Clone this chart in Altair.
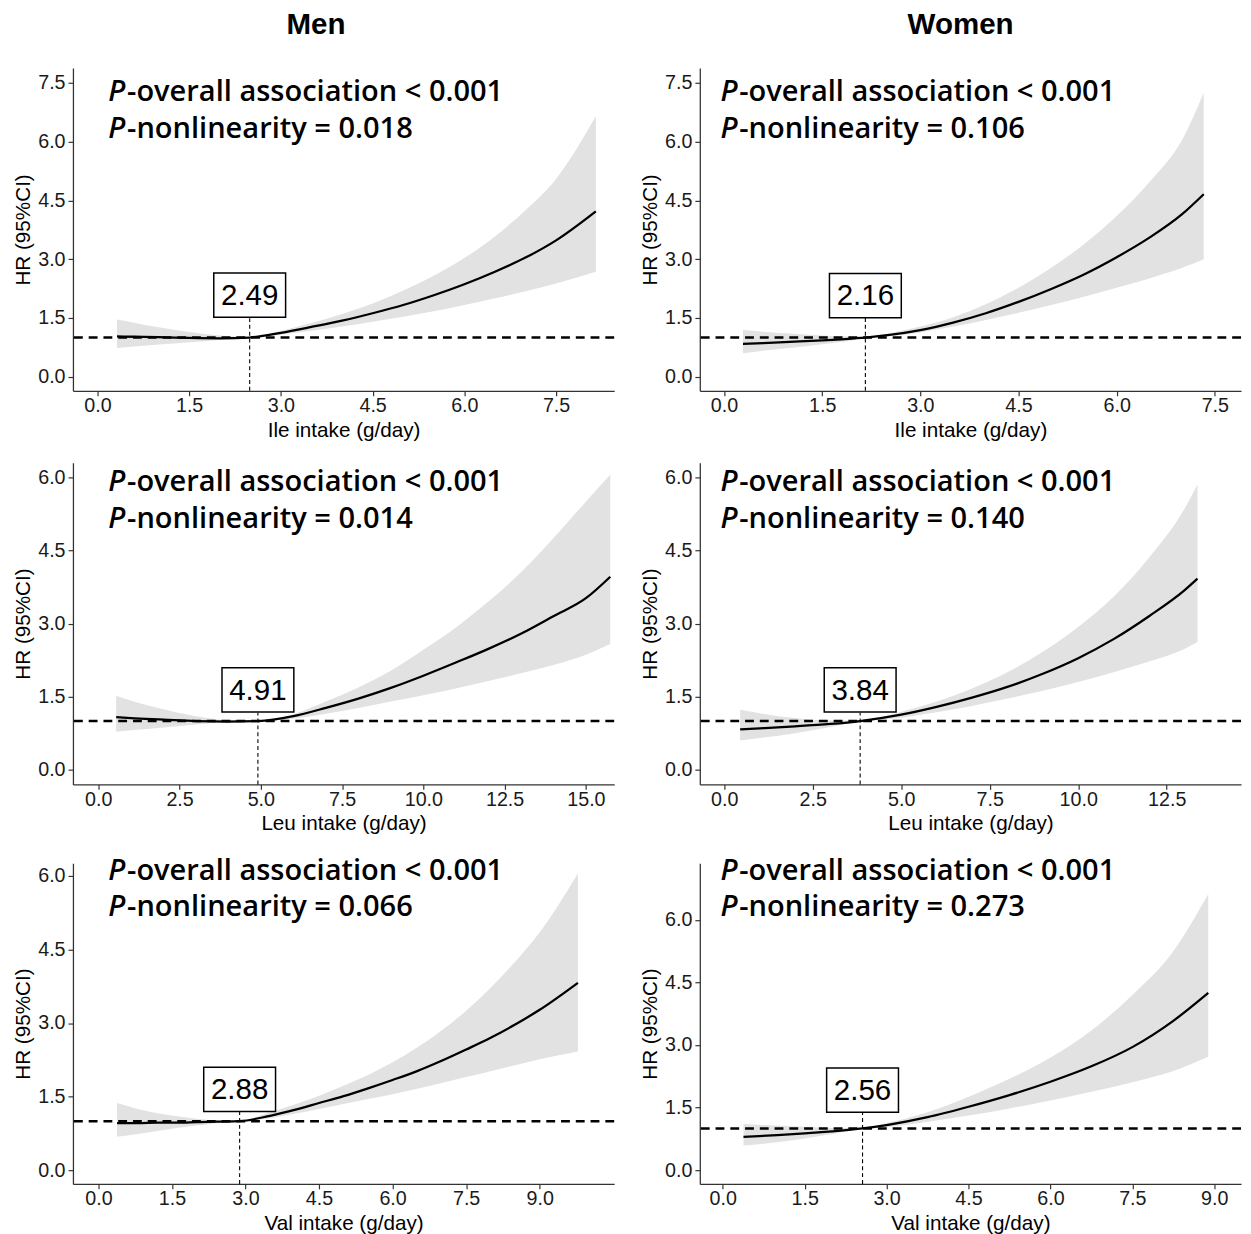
import altair as alt
import pandas as pd

# ---------------- data ----------------
# Men, Ile
m_ile_x = [0.32, 0.6, 1.0, 1.5, 2.0, 2.49, 3.0, 3.5, 4.0, 4.5, 5.0, 5.5, 6.0, 6.5, 7.0, 7.5, 8.15]
m_ile_hr = [1.03, 1.02, 1.01, 0.99, 0.98, 1.00, 1.12, 1.27, 1.43, 1.62, 1.83, 2.08, 2.36, 2.68, 3.04, 3.48, 4.22]
m_ile_lo = [0.73, 0.77, 0.82, 0.88, 0.94, 0.99, 1.07, 1.17, 1.28, 1.40, 1.53, 1.67, 1.83, 2.00, 2.18, 2.38, 2.68]
m_ile_hi = [1.46, 1.38, 1.26, 1.14, 1.05, 1.01, 1.17, 1.37, 1.60, 1.87, 2.20, 2.58, 3.03, 3.58, 4.25, 5.05, 6.65]

# Women, Ile
w_ile_x = [0.29, 0.6, 1.0, 1.5, 2.0, 2.16, 2.5, 3.0, 3.5, 4.0, 4.5, 5.0, 5.5, 6.0, 6.5, 7.0, 7.33]
w_ile_hr = [0.84, 0.86, 0.89, 0.93, 0.98, 1.00, 1.06, 1.19, 1.38, 1.62, 1.91, 2.24, 2.61, 3.05, 3.55, 4.15, 4.66]
w_ile_lo = [0.60, 0.66, 0.73, 0.83, 0.94, 0.99, 1.03, 1.13, 1.28, 1.45, 1.63, 1.83, 2.04, 2.27, 2.51, 2.78, 3.00]
w_ile_hi = [1.19, 1.15, 1.10, 1.05, 1.02, 1.01, 1.10, 1.28, 1.52, 1.85, 2.27, 2.78, 3.38, 4.10, 4.97, 6.05, 7.25]

# Men, Leu
m_leu_x = [0.55, 1.0, 2.0, 3.0, 4.0, 4.91, 6.0, 7.0, 8.0, 9.0, 10.0, 11.0, 12.0, 13.0, 14.0, 15.0, 15.75]
m_leu_hr = [1.08, 1.06, 1.03, 1.00, 0.99, 1.00, 1.10, 1.27, 1.46, 1.68, 1.93, 2.20, 2.48, 2.79, 3.15, 3.52, 3.96]
m_leu_lo = [0.78, 0.81, 0.87, 0.93, 0.98, 0.99, 1.05, 1.15, 1.27, 1.40, 1.53, 1.67, 1.82, 1.98, 2.15, 2.36, 2.58]
m_leu_hi = [1.52, 1.42, 1.24, 1.10, 1.02, 1.01, 1.14, 1.40, 1.69, 2.03, 2.46, 2.92, 3.45, 4.05, 4.75, 5.50, 6.05]

# Women, Leu
w_leu_x = [0.45, 1.0, 2.0, 3.0, 3.84, 5.0, 6.0, 7.0, 8.0, 9.0, 10.0, 11.0, 12.0, 13.0, 13.37]
w_leu_hr = [0.83, 0.85, 0.89, 0.94, 1.00, 1.13, 1.29, 1.48, 1.70, 1.97, 2.29, 2.68, 3.15, 3.68, 3.92]
w_leu_lo = [0.60, 0.65, 0.75, 0.88, 0.99, 1.07, 1.18, 1.31, 1.46, 1.62, 1.80, 2.00, 2.22, 2.48, 2.62]
w_leu_hi = [1.23, 1.16, 1.06, 1.01, 1.01, 1.19, 1.40, 1.67, 2.00, 2.42, 2.93, 3.55, 4.35, 5.35, 5.85]

# Men, Val
m_val_x = [0.38, 0.8, 1.2, 1.6, 2.0, 2.4, 2.88, 3.5, 4.0, 4.5, 5.0, 5.5, 6.0, 6.5, 7.0, 7.5, 8.0, 8.5, 9.0, 9.78]
m_val_hr = [0.96, 0.96, 0.97, 0.97, 0.98, 0.99, 1.00, 1.11, 1.23, 1.37, 1.51, 1.67, 1.84, 2.02, 2.23, 2.46, 2.70, 2.97, 3.27, 3.82]
m_val_lo = [0.68, 0.74, 0.80, 0.86, 0.91, 0.96, 0.99, 1.06, 1.15, 1.25, 1.35, 1.45, 1.55, 1.66, 1.78, 1.90, 2.02, 2.14, 2.26, 2.42]
m_val_hi = [1.37, 1.25, 1.16, 1.10, 1.05, 1.02, 1.01, 1.18, 1.34, 1.52, 1.72, 1.94, 2.20, 2.50, 2.85, 3.25, 3.72, 4.25, 4.85, 6.05]

# Women, Val
w_val_x = [0.38, 1.0, 1.5, 2.0, 2.56, 3.0, 3.75, 4.5, 5.25, 6.0, 6.75, 7.5, 8.25, 8.89]
w_val_hr = [0.80, 0.84, 0.88, 0.93, 1.00, 1.08, 1.27, 1.52, 1.80, 2.12, 2.49, 2.95, 3.58, 4.25]
w_val_lo = [0.59, 0.67, 0.76, 0.87, 0.99, 1.03, 1.16, 1.31, 1.48, 1.67, 1.88, 2.11, 2.38, 2.72]
w_val_hi = [1.11, 1.07, 1.04, 1.01, 1.01, 1.13, 1.39, 1.76, 2.19, 2.70, 3.35, 4.20, 5.25, 6.62]

# cut points (labels), box centre HR and top of dotted line (HR)
cut_values = [2.49, 2.16, 4.91, 3.84, 2.88, 2.56]
cut_labels = ["2.49", "2.16", "4.91", "3.84", "2.88", "2.56"]
box_hr = [2.08, 2.07, 1.64, 1.64, 1.65, 1.92]
line_top_hr = [1.49, 1.50, 1.17, 1.17, 1.20, 1.41]

p_nonlin = ["0.018", "0.106", "0.014", "0.140", "0.066", "0.273"]
x_titles = ["Ile intake (g/day)", "Ile intake (g/day)", "Leu intake (g/day)",
            "Leu intake (g/day)", "Val intake (g/day)", "Val intake (g/day)"]
x_domains = [[-0.40, 8.45], [-0.37, 7.9], [-0.78, 15.87], [-0.69, 14.6], [-0.52, 10.52], [-0.42, 9.49]]
y_domains = [[-0.36, 7.88], [-0.36, 7.88], [-0.30, 6.30], [-0.30, 6.30], [-0.28, 6.26], [-0.33, 7.36]]
x_ticks = [[0, 1.5, 3, 4.5, 6, 7.5], [0, 1.5, 3, 4.5, 6, 7.5],
           [0, 2.5, 5, 7.5, 10, 12.5, 15], [0, 2.5, 5, 7.5, 10, 12.5],
           [0, 1.5, 3, 4.5, 6, 7.5, 9], [0, 1.5, 3, 4.5, 6, 7.5, 9]]
y_ticks = [[0, 1.5, 3, 4.5, 6, 7.5], [0, 1.5, 3, 4.5, 6, 7.5],
           [0, 1.5, 3, 4.5, 6], [0, 1.5, 3, 4.5, 6],
           [0, 1.5, 3, 4.5, 6], [0, 1.5, 3, 4.5, 6]]
col_titles = ["Men", "Women"]

series = [
    (m_ile_x, m_ile_hr, m_ile_lo, m_ile_hi),
    (w_ile_x, w_ile_hr, w_ile_lo, w_ile_hi),
    (m_leu_x, m_leu_hr, m_leu_lo, m_leu_hi),
    (w_leu_x, w_leu_hr, w_leu_lo, w_leu_hi),
    (m_val_x, m_val_hr, m_val_lo, m_val_hi),
    (w_val_x, w_val_hr, w_val_lo, w_val_hi),
]

# ---------------- layout constants ----------------
PW = 550
PH = [328, 327, 326]
TXT_FONT = "Open Sans"
AX_FONT = "Liberation Sans"
P_SIZE = 29.5
TXT_X = [36, 21]
TXT_Y = [[33, 71], [29, 66], [17, 54]]
TITLE_X = [247, 265]


def panel(i):
    xs_, hr_, lo_, hi_ = series[i]
    df = pd.DataFrame({"x": xs_, "hr": hr_, "lo": lo_, "hi": hi_})
    row, col = divmod(i, 2)
    xsc = alt.Scale(domain=x_domains[i], nice=False, zero=False)
    ysc = alt.Scale(domain=y_domains[i], nice=False, zero=False)
    xax = alt.Axis(values=x_ticks[i], format=".1f", title=x_titles[i],
                   labelPadding=0, titlePadding=4)
    yax = alt.Axis(values=y_ticks[i], format=".1f", title="HR (95%CI)",
                   labelPadding=3, titlePadding=4)

    band = alt.Chart(df).mark_area(color="#e2e2e2", interpolate="monotone").encode(
        x=alt.X("x:Q", scale=xsc, axis=xax),
        y=alt.Y("lo:Q", scale=ysc, axis=yax),
        y2="hi:Q",
    )
    curve = alt.Chart(df).mark_line(color="black", strokeWidth=2.3, interpolate="monotone").encode(
        x="x:Q", y="hr:Q"
    )
    ref = alt.Chart(pd.DataFrame({"r": [1.0]})).mark_rule(
        color="black", strokeWidth=2.5, strokeDash=[9, 6]
    ).encode(y="r:Q")

    cdf = pd.DataFrame({
        "cx": [cut_values[i]], "y0": [y_domains[i][0]], "y1": [line_top_hr[i]],
        "yc": [box_hr[i]], "lab": [cut_labels[i]],
    })
    vline = alt.Chart(cdf).mark_rule(color="black", strokeWidth=1.1, strokeDash=[4, 3]).encode(
        x="cx:Q", y="y0:Q", y2="y1:Q"
    )
    box = alt.Chart(cdf).mark_point(
        shape="M-1,-0.616L1,-0.616L1,0.616L-1,0.616Z", size=73 * 73, filled=True,
        fill="white", stroke="black", strokeWidth=1.5, opacity=1, fillOpacity=1,
    ).encode(x="cx:Q", y="yc:Q")
    boxtxt = alt.Chart(cdf).mark_text(
        font=AX_FONT, fontSize=30, color="black", align="center", baseline="middle", dy=1
    ).encode(x="cx:Q", y="yc:Q", text="lab:N")

    tx = TXT_X[col]
    ty1, ty2 = TXT_Y[row]
    common = dict(font=TXT_FONT, fontSize=P_SIZE, fontWeight=600, color="black",
                  align="left", baseline="alphabetic")
    p1 = alt.Chart(cdf).mark_text(text="P", fontStyle="italic", **common).encode(
        x=alt.value(tx), y=alt.value(ty1))
    r1 = alt.Chart(cdf).mark_text(text="-overall association < 0.001", **common).encode(
        x=alt.value(tx + 19), y=alt.value(ty1))
    p2 = alt.Chart(cdf).mark_text(text="P", fontStyle="italic", **common).encode(
        x=alt.value(tx), y=alt.value(ty2))
    r2 = alt.Chart(cdf).mark_text(text="-nonlinearity = " + p_nonlin[i], **common).encode(
        x=alt.value(tx + 19), y=alt.value(ty2))

    layers = [band, curve, ref, vline, box, boxtxt, p1, r1, p2, r2]
    if row == 0:
        layers.append(alt.Chart(cdf).mark_text(
            text=col_titles[col], font=AX_FONT, fontSize=30, fontWeight="bold", color="black",
            align="center", baseline="middle",
        ).encode(x=alt.value(TITLE_X[col]), y=alt.value(-44)))
    return alt.layer(*layers).properties(width=PW, height=PH[row])


rows = []
for r in range(3):
    rows.append(alt.hconcat(panel(2 * r), panel(2 * r + 1), spacing=24)
                .resolve_scale(x="independent", y="independent"))

chart = alt.vconcat(*rows, spacing=23).resolve_scale(x="independent", y="independent").properties(
    padding={"left": 5, "top": -8, "right": 0, "bottom": 0}
).configure_view(stroke=None).configure_axis(
    grid=False, domainColor="#333333", domainWidth=1.3, tickColor="#333333", tickSize=5,
    tickWidth=1.2, labelFont=AX_FONT, labelFontSize=20, labelColor="#1a1a1a",
    titleFont=AX_FONT, titleFontSize=21, titleFontWeight="normal", titleColor="black",
)

chart.save("out.html", embed_options={"renderer": "svg", "actions": False})
